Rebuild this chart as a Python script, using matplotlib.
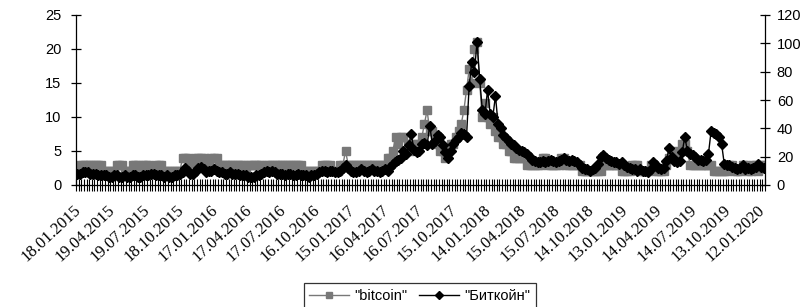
import matplotlib
matplotlib.use("Agg")
import matplotlib.pyplot as plt
import matplotlib.transforms as mtransforms
import numpy as np

# ---------------- data ----------------
tick_labels = ["18.01.2015", "19.04.2015", "19.07.2015", "18.10.2015", "17.01.2016",
               "17.04.2016", "17.07.2016", "16.10.2016", "15.01.2017", "16.04.2017",
               "16.07.2017", "15.10.2017", "14.01.2018", "15.04.2018", "15.07.2018",
               "14.10.2018", "13.01.2019", "14.04.2019", "14.07.2019", "13.10.2019",
               "12.01.2020"]
label_step = 13  # one label every 13 weeks

bitcoin = [
    2, 3, 3, 3, 3, 3, 3, 3, 3, 3,            # 0-9
    2, 2, 2, 2, 2, 3, 3, 3, 2, 2,            # 10-19
    2, 3, 3, 3, 2, 3, 3, 3, 2, 2,            # 20-29
    3, 3, 3, 2, 2, 2, 2, 2, 2, 2,            # 30-39
    4, 4, 4, 3, 3, 4, 4, 4, 4, 3,            # 40-49
    3, 4, 4, 4, 3, 3, 3, 3, 3, 3,            # 50-59
    3, 3, 3, 3, 2, 3, 3, 3, 3, 3,            # 60-69
    3, 2, 3, 3, 3, 3, 3, 3, 3, 3,            # 70-79
    3, 3, 3, 3, 3, 3, 2, 2, 2, 2,            # 80-89
    2, 2, 2, 3, 3, 3, 3, 2, 2, 2,            # 90-99
    3, 3, 5, 3, 3, 3, 3, 3, 3, 3,            # 100-109
    3, 3, 3, 3, 3, 3, 3, 3, 4, 4,            # 110-119
    5, 7, 6, 7, 7, 5, 6, 6, 5, 6,            # 120-129
    6, 7, 9, 11, 8, 8, 7, 6, 5, 5,           # 130-139
    4, 5, 6, 6, 7, 8, 9, 11, 14, 17,         # 140-149
    15, 20, 21, 15, 10, 12, 10, 9, 10, 8,    # 150-159
    7, 7, 6, 6, 5, 5, 4, 4, 4, 4,            # 160-169
    4, 3, 3, 3, 3, 3, 3, 4, 4, 3,            # 170-179
    3, 3, 3, 3, 4, 4, 3, 3, 3, 3,            # 180-189
    3, 3, 2, 2, 2, 2, 2, 2, 2, 2,            # 190-199
    3, 3, 3, 3, 3, 3, 3, 2, 2, 2,            # 200-209
    2, 3, 3, 3, 2, 2, 2, 2, 3, 3,            # 210-219
    2, 2, 2, 2, 3, 4, 5, 4, 4, 5,            # 220-229
    6, 6, 5, 3, 3, 3, 3, 3, 3, 3,            # 230-239
    3, 3, 2, 2, 2, 2, 2, 2, 3, 3,            # 240-249
    2, 2, 2, 3, 3, 2, 2, 3, 3, 2,            # 250-259
    3, 3,                                    # 260-261
]

bitcoin_ru = [
    8, 8, 9, 9, 9, 8, 8, 8, 7, 7,            # 0-9
    7, 7, 6, 6, 7, 7, 6, 6, 7, 6,            # 10-19
    6, 7, 7, 6, 6, 7, 7, 7, 8, 8,            # 20-29
    7, 7, 7, 6, 7, 6, 6, 7, 7, 8,            # 30-39
    9, 12, 10, 8, 8, 10, 12, 13, 11, 9,      # 40-49
    10, 10, 11, 10, 9, 9, 8, 8, 9, 8,        # 50-59
    8, 8, 7, 7, 7, 6, 6, 6, 7, 7,            # 60-69
    8, 9, 10, 9, 10, 9, 8, 8, 8, 7,          # 70-79
    8, 8, 7, 7, 8, 7, 7, 7, 6, 7,            # 80-89
    7, 8, 9, 10, 10, 9, 10, 10, 9, 9,        # 90-99
    10, 12, 14, 12, 10, 9, 9, 10, 11, 10,    # 100-109
    9, 10, 11, 10, 10, 9, 10, 11, 10, 13,    # 110-119
    15, 17, 18, 19, 24, 22, 28, 36, 25, 23,  # 120-129
    24, 29, 30, 28, 42, 29, 31, 35, 34, 28,  # 130-139
    23, 19, 24, 29, 32, 34, 37, 36, 34, 70,  # 140-149
    87, 80, 101, 75, 53, 50, 67, 50, 48, 63, # 150-159
    43, 40, 35, 33, 31, 29, 28, 26, 25, 24,  # 160-169
    23, 22, 20, 18, 17, 16, 16, 17, 16, 17,  # 170-179
    18, 17, 16, 17, 18, 19, 18, 17, 18, 17,  # 180-189
    16, 14, 12, 11, 11, 10, 11, 12, 15, 20,  # 190-199
    21, 19, 18, 17, 16, 16, 15, 16, 14, 13,  # 200-209
    12, 11, 11, 10, 11, 10, 10, 9, 11, 16,   # 210-219
    14, 12, 11, 12, 17, 26, 20, 17, 16, 17,  # 220-229
    23, 34, 24, 22, 21, 20, 18, 18, 17, 18,  # 230-239
    22, 38, 37, 36, 34, 29, 15, 14, 14, 13,  # 240-249
    12, 11, 12, 14, 11, 12, 11, 12, 13, 15,  # 250-259
    13, 12,                                  # 260-261
]

series_names = ['"bitcoin"', '"Биткойн"']

# ---------------- figure ----------------
W, H = 807, 307
fig = plt.figure(figsize=(W / 100, H / 100), dpi=100)
ax_l, ax_r, ax_t, ax_b = 76, 765, 15, 185
ax = fig.add_axes([ax_l / W, 1 - ax_b / H, (ax_r - ax_l) / W, (ax_b - ax_t) / H])
ax2 = ax.twinx()

n = len(bitcoin)
x = np.arange(n)

gray = "#787878"
l1, = ax.plot(x, bitcoin, color=gray, lw=1.0, marker="s", ms=6.0,
              markerfacecolor=gray, markeredgecolor=gray, zorder=2)
l2, = ax2.plot(x, bitcoin_ru, color="black", lw=1.0, marker="D", ms=5.3,
               markerfacecolor="black", markeredgecolor="black", zorder=3)

ax.set_xlim(-0.5, n - 0.5)
ax.set_ylim(0, 25)
ax2.set_ylim(0, 120)
ax.set_yticks(np.arange(0, 26, 5))
ax2.set_yticks(np.arange(0, 121, 20))

sans = "Liberation Sans"
serif = "Liberation Serif"

for a in (ax, ax2):
    a.spines["top"].set_visible(False)
    for s in a.spines.values():
        s.set_linewidth(0.9)
ax.spines["right"].set_visible(False)
ax2.spines["left"].set_visible(False)
ax2.spines["bottom"].set_visible(False)

ax.tick_params(axis="y", direction="inout", length=7, width=0.9, pad=7,
               labelsize=10.5)
ax2.tick_params(axis="y", direction="inout", length=7, width=0.9, pad=5,
                labelsize=10.5)
for lab in ax.get_yticklabels() + ax2.get_yticklabels():
    lab.set_fontfamily(sans)

# x ticks: one tick at every category boundary, no tick labels
ax.set_xticks(np.arange(-0.5, n, 1.0))
ax.tick_params(axis="x", direction="inout", length=8, width=0.8, labelbottom=False)

# rotated date labels
trans = mtransforms.blended_transform_factory(ax.transData, ax.transAxes) + \
    mtransforms.ScaledTranslation(-4 / 100, -17 / 100, fig.dpi_scale_trans)
for k, lab in enumerate(tick_labels):
    ax.text(k * label_step, 0, lab, transform=trans, rotation=43,
            rotation_mode="anchor", ha="right", va="top",
            fontfamily=serif, fontsize=12)

leg = fig.legend([l1, l2], series_names, loc="upper center",
                 bbox_to_anchor=(420 / W, 1 - 276 / H), ncol=2,
                 frameon=True, fancybox=False, edgecolor="black",
                 prop={"family": sans, "size": 10.5}, handlelength=2.7,
                 handletextpad=0.4, columnspacing=0.8, borderpad=0.4,
                 markerscale=0.75)
leg.get_frame().set_linewidth(0.9)

fig.savefig("out.png", dpi=100)
